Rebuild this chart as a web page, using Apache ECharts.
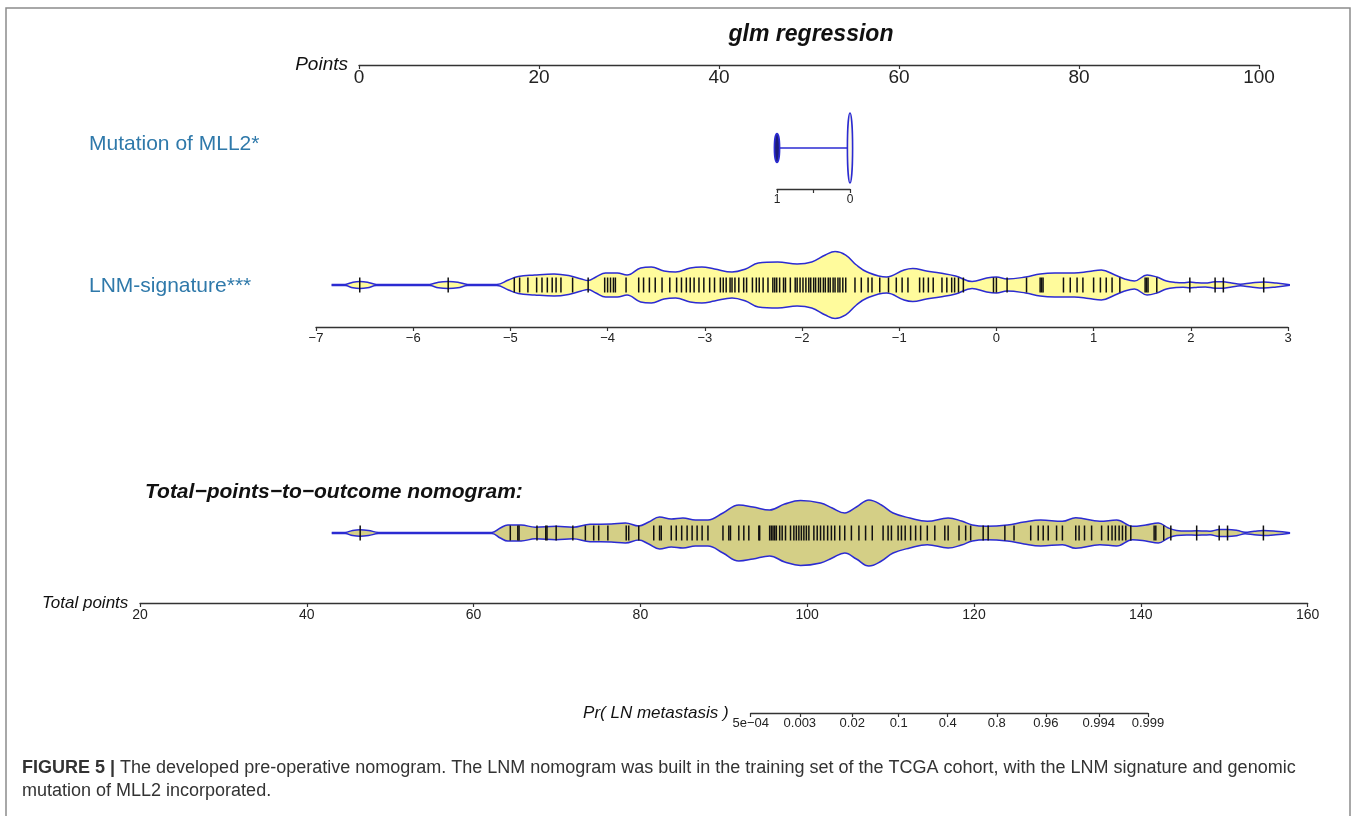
<!DOCTYPE html>
<html><head><meta charset="utf-8">
<script src="https://cdn.jsdelivr.net/npm/echarts@6/dist/echarts.min.js"></script>
<style>html,body{margin:0;padding:0;background:#fff}#c{width:1357px;height:816px}</style>
</head><body><div id="c"></div>
<script>
// ---------------- data ----------------
const mutationLevels = [1, 0];
const mutationDensity = [0.36, 0.875];

const lnmViolinX = [-6.84,-6.70,-6.62,-6.55,-6.47,-6.38,-6.0,-5.83,-5.74,-5.64,-5.54,-5.44,-5.14,-5.02,-4.92,-4.75,-4.55,-4.38,-4.27,-4.20,-4.12,-4.02,-3.90,-3.80,-3.66,-3.55,-3.42,-3.30,-3.15,-3.03,-2.90,-2.72,-2.58,-2.45,-2.25,-2.05,-1.90,-1.76,-1.66,-1.55,-1.44,-1.33,-1.13,-0.95,-0.86,-0.72,-0.58,-0.42,-0.25,-0.10,0.0,0.11,0.30,0.45,0.60,0.80,0.95,1.08,1.22,1.32,1.42,1.55,1.65,1.75,1.85,1.92,1.99,2.07,2.15,2.25,2.33,2.42,2.51,2.62,2.75,2.88,3.02];
const lnmViolinDensity = [0.012,0.018,0.082,0.103,0.082,0.018,0.012,0.018,0.082,0.103,0.082,0.018,0.015,0.147,0.25,0.294,0.324,0.265,0.176,0.132,0.235,0.353,0.353,0.294,0.5,0.529,0.412,0.382,0.5,0.529,0.471,0.382,0.471,0.647,0.676,0.618,0.676,0.882,0.985,0.882,0.588,0.382,0.235,0.441,0.485,0.412,0.353,0.265,0.103,0.206,0.235,0.176,0.235,0.324,0.353,0.353,0.397,0.441,0.294,0.176,0.118,0.294,0.235,0.118,0.074,0.065,0.088,0.065,0.059,0.094,0.094,0.059,0.024,0.059,0.088,0.059,0.009];
const lnmRug = [-6.55,-5.64,-4.96,-4.905,-4.82,-4.73,-4.675,-4.62,-4.57,-4.53,-4.48,-4.36,-4.20,-4.03,-4.0,-3.97,-3.94,-3.92,-3.81,-3.68,-3.63,-3.57,-3.51,-3.44,-3.36,-3.29,-3.24,-3.19,-3.15,-3.11,-3.06,-3.01,-2.95,-2.90,-2.84,-2.81,-2.78,-2.74,-2.72,-2.69,-2.65,-2.60,-2.57,-2.51,-2.47,-2.44,-2.40,-2.35,-2.30,-2.28,-2.26,-2.23,-2.19,-2.17,-2.12,-2.07,-2.05,-2.02,-1.99,-1.96,-1.93,-1.91,-1.88,-1.86,-1.83,-1.81,-1.78,-1.76,-1.73,-1.71,-1.68,-1.66,-1.63,-1.61,-1.58,-1.55,-1.455,-1.39,-1.32,-1.28,-1.20,-1.11,-1.03,-0.97,-0.91,-0.79,-0.75,-0.70,-0.65,-0.56,-0.51,-0.46,-0.43,-0.39,-0.34,-0.03,0.0,0.11,0.31,0.45,0.465,0.48,0.69,0.76,0.83,0.89,1.0,1.07,1.13,1.19,1.27,1.53,1.545,1.56,1.65,1.99,2.25,2.335,2.75];

const totalViolinX = [42.99,44.6,45.5,46.38,47.4,48.6,55,62.2,63.2,64.1,65.7,67.4,69.9,71.9,73.96,76.5,78.2,79.8,81.0,82.3,83.7,85.1,86.6,88.1,89.9,91.8,93.5,95.5,97.3,99.2,101.6,103.0,104.5,105.9,107.4,108.9,110.3,112.3,114.4,116.9,118.5,119.8,121.5,124.0,126.0,128.0,130.6,132.2,135.1,137.1,139.0,140.6,142.1,143.3,144.3,145.5,146.7,147.6,148.3,149.4,150.4,151.6,152.5,153.6,154.7,156.2,157.9];
const totalViolinDensity = [0.012,0.018,0.076,0.097,0.076,0.018,0.012,0.015,0.147,0.235,0.235,0.168,0.197,0.168,0.256,0.265,0.294,0.206,0.324,0.471,0.412,0.441,0.382,0.382,0.588,0.824,0.765,0.676,0.853,0.956,0.882,0.735,0.588,0.765,0.97,0.824,0.588,0.441,0.344,0.441,0.353,0.235,0.197,0.235,0.324,0.382,0.344,0.45,0.344,0.382,0.197,0.235,0.294,0.147,0.074,0.059,0.065,0.059,0.053,0.103,0.103,0.074,0.024,0.053,0.074,0.053,0.009];
const totalRug = [46.4,64.4,65.3,65.45,67.6,68.65,68.8,69.9,71.9,73.4,74.4,75.0,76.1,78.3,78.6,79.8,81.6,82.3,82.5,83.7,84.3,84.95,85.6,86.2,86.8,87.4,88.1,89.9,90.6,90.8,91.8,92.4,93.0,94.2,94.3,95.5,95.7,95.9,96.1,96.3,96.7,97.0,97.4,98.0,98.4,98.7,99.0,99.3,99.6,99.9,100.2,100.8,101.2,101.6,102.0,102.45,102.9,103.3,103.9,104.5,105.3,106.2,107.0,107.8,109.1,109.7,110.1,110.9,111.3,111.75,112.4,113.0,113.6,114.4,115.3,116.5,116.9,118.2,119.0,119.6,121.1,121.7,123.7,124.8,126.8,127.7,128.3,128.9,129.9,130.6,132.2,132.6,133.25,134.1,135.3,136.1,136.55,136.95,137.4,137.8,138.2,138.8,141.6,141.8,142.75,143.6,146.7,149.4,150.4,154.7];

const probTickValues = [0.0005,0.003,0.02,0.1,0.4,0.8,0.96,0.994,0.999];
const probTickLabels = ['5e\u221204','0.003','0.02','0.1','0.4','0.8','0.96','0.994','0.999'];

// ---------------- rendering ----------------
const F = "'Liberation Sans', Arial, Helvetica, sans-serif";
const AX = '#333';
const BLUE = '#2b2bd2';
const LNM_FILL = '#fffb9c';
const TOT_FILL = '#d4cf86';
const RUG = 7.5;
const logit = p => Math.log(p / (1 - p));
const probLogits = probTickValues.map(logit);

const chart = echarts.init(document.getElementById('c'), null, {renderer: 'canvas'});

function grid(left, top, width, height) {
  return {left, top, width, height, containLabel: false, outerBoundsMode: 'none', show: false};
}
function hiddenX(gi, min, max, inverse) {
  return {gridIndex: gi, type: 'value', min, max, inverse: !!inverse, show: false};
}
function visibleX(gi, min, max, interval, fontSize, margin, extra) {
  return Object.assign({
    gridIndex: gi, type: 'value', min, max, interval, position: 'bottom',
    axisLine: {show: true, onZero: false, lineStyle: {color: AX, width: 1.4}},
    axisTick: {show: true, length: 4, lineStyle: {color: AX, width: 1.2}},
    axisLabel: {fontSize, margin, color: '#222', fontFamily: F, hideOverlap: false, showMinLabel: true, showMaxLabel: true},
    splitLine: {show: false}
  }, extra || {});
}
function nameStyle(size) {
  return {fontStyle: 'italic', fontSize: size, color: '#111', fontFamily: F, verticalAlign: 'middle'};
}
const pair = (xs, ds, s) => xs.map((x, i) => [x, s * ds[i]]);
const rugRender = (params, api) => {
  const p = api.coord([api.value(0), 0]);
  return {type: 'line', shape: {x1: p[0], y1: p[1] - RUG, x2: p[0], y2: p[1] + RUG},
    style: {stroke: '#111', lineWidth: 1.5}};
};
function violin(xi, xs, ds, fill) {
  const base = {type: 'line', xAxisIndex: xi, yAxisIndex: xi, smooth: 0.4, symbol: 'none', silent: true,
    lineStyle: {color: BLUE, width: 1.5}, areaStyle: {color: fill, opacity: 1}, z: 2};
  return [Object.assign({}, base, {data: pair(xs, ds, 1)}), Object.assign({}, base, {data: pair(xs, ds, -1)})];
}

const option = {
  animation: false,
  backgroundColor: '#fff',
  grid: [
    grid(359, 60, 900, 5),      // 0 Points axis
    grid(777, 108, 73, 80),     // 1 Mutation marks
    grid(777, 184, 73, 5),      // 2 Mutation axis
    grid(316, 251, 972, 68),    // 3 LNM marks
    grid(316, 322, 972, 5),     // 4 LNM axis
    grid(140, 499, 1167.6, 68), // 5 Total marks
    grid(140, 598, 1167.6, 5),  // 6 Total axis
    grid(750.7, 708, 397.3, 5)  // 7 Pr axis
  ],
  xAxis: [
    visibleX(0, 0, 100, 20, 19, 3, {name: 'Points', nameLocation: 'start', nameGap: 11, nameTextStyle: nameStyle(19)}),
    hiddenX(1, 0, 1, true),
    visibleX(2, 0, 1, 0.5, 12, 5, {inverse: true, axisLabel: {fontSize: 12, margin: 5, color: '#222', fontFamily: F, formatter: v => (v === 0.5 ? '' : String(v))}}),
    hiddenX(3, -7, 3),
    visibleX(4, -7, 3, 1, 13, 5, {axisLabel: {fontSize: 13, margin: 5, color: '#222', fontFamily: F, formatter: v => String(v).replace('-', '\u2212')}}),
    hiddenX(5, 20, 160),
    visibleX(6, 20, 160, 20, 14, 5, {name: 'Total points', nameLocation: 'start', nameGap: 3, nameTextStyle: nameStyle(17)}),
    visibleX(7, logit(0.0005), logit(0.999), null, 13, 4, {
      name: 'Pr( LN metastasis )', nameLocation: 'start', nameGap: 12, nameTextStyle: nameStyle(17),
      axisTick: {show: true, length: 4, customValues: probLogits, lineStyle: {color: AX, width: 1.2}},
      axisLabel: {fontSize: 13, margin: 4, color: '#222', fontFamily: F, customValues: probLogits,
        formatter: v => { const i = probLogits.findIndex(l => Math.abs(l - v) < 1e-6); return i >= 0 ? probTickLabels[i] : ''; }}
    })
  ],
  yAxis: [0,1,2,3,4,5,6,7].map(i => ({gridIndex: i, type: 'value', show: false,
    min: (i === 1 || i === 3 || i === 5) ? -1 : 0, max: 1})),
  series: [
    ...violin(3, lnmViolinX, lnmViolinDensity, LNM_FILL),
    {type: 'custom', xAxisIndex: 3, yAxisIndex: 3, data: lnmRug.map(v => [v, 0]), renderItem: rugRender, z: 4, silent: true},
    ...violin(5, totalViolinX, totalViolinDensity, TOT_FILL),
    {type: 'custom', xAxisIndex: 5, yAxisIndex: 5, data: totalRug.map(v => [v, 0]), renderItem: rugRender, z: 4, silent: true},
    {type: 'line', xAxisIndex: 1, yAxisIndex: 1, data: mutationLevels.map(v => [v, 0]), symbol: 'none', silent: true,
      lineStyle: {color: BLUE, width: 1.6}, z: 2},
    {type: 'custom', xAxisIndex: 1, yAxisIndex: 1, silent: true, z: 3,
      data: mutationLevels.map((v, i) => [v, mutationDensity[i]]),
      renderItem: (params, api) => {
        const c = api.coord([api.value(0), 0]);
        const s = api.size([0, api.value(1)]);
        const small = params.dataIndex === 0;
        return {type: 'ellipse', shape: {cx: c[0], cy: c[1], rx: 2.6, ry: s[1]},
          style: {fill: small ? '#1c1c78' : '#fffbe0', stroke: BLUE, lineWidth: 1.6}};
      }}
  ],
  graphic: [
    {type: 'rect', silent: true, shape: {x: 6, y: 8, width: 1344, height: 840}, style: {fill: 'none', stroke: '#8c8c8c', lineWidth: 1.5}},
    {type: 'text', x: 811, y: 35, style: {text: 'glm regression', font: 'italic bold 23px ' + F, fill: '#111', align: 'center', verticalAlign: 'middle'}},
    {type: 'text', x: 89, y: 144, style: {text: 'Mutation of MLL2*', font: '21px ' + F, fill: '#2f79aa', align: 'left', verticalAlign: 'middle'}},
    {type: 'text', x: 89, y: 286, style: {text: 'LNM-signature***', font: '21px ' + F, fill: '#2f79aa', align: 'left', verticalAlign: 'middle'}},
    {type: 'text', x: 145, y: 492, style: {text: 'Total\u2212points\u2212to\u2212outcome nomogram:', font: 'italic bold 21px ' + F, fill: '#111', align: 'left', verticalAlign: 'middle'}},
    {type: 'text', x: 22, y: 768, style: {text: '{b|FIGURE 5 |} The developed pre-operative nomogram. The LNM nomogram was built in the training set of the TCGA cohort, with the LNM signature and genomic',
      font: '18px ' + F, fill: '#333', align: 'left', verticalAlign: 'middle', rich: {b: {fontWeight: 'bold', fontSize: 18, fontFamily: F, fill: '#333'}}}},
    {type: 'text', x: 22, y: 791, style: {text: 'mutation of MLL2 incorporated.', font: '18px ' + F, fill: '#333', align: 'left', verticalAlign: 'middle'}}
  ]
};
chart.setOption(option);
</script></body></html>
